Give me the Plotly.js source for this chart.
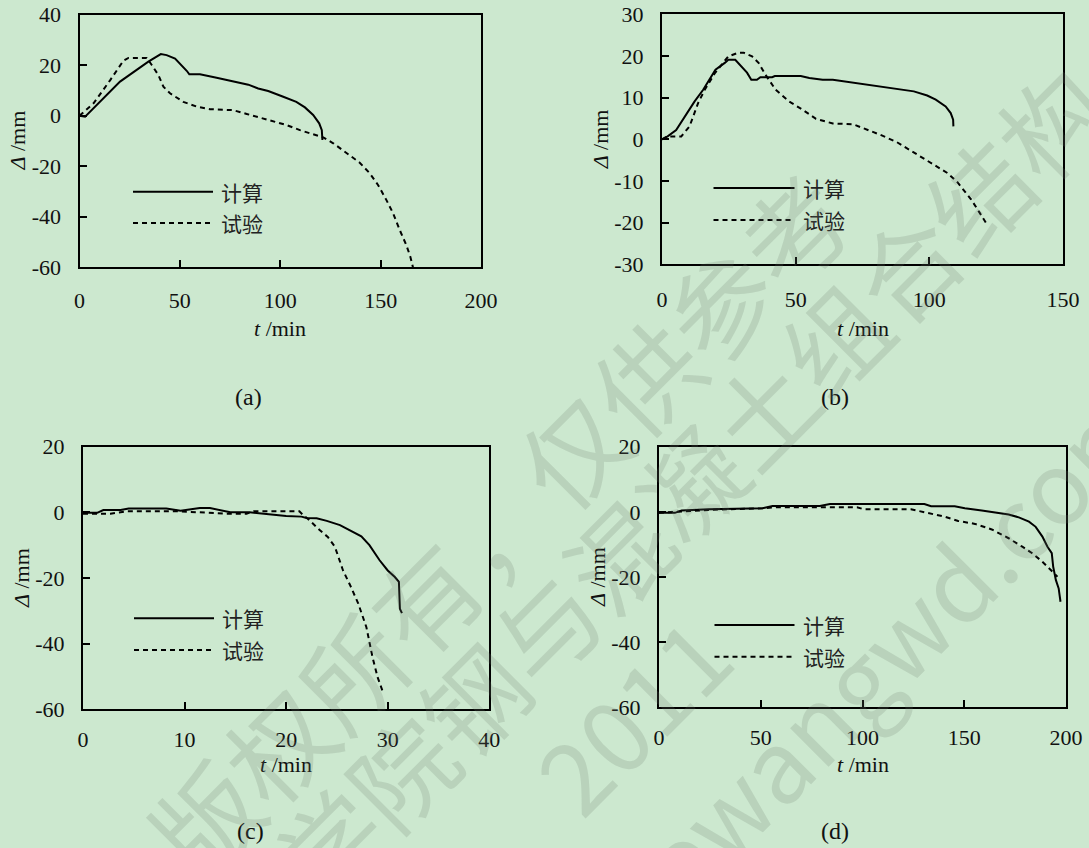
<!DOCTYPE html>
<html>
<head>
<meta charset="utf-8">
<script src="https://cdn.plot.ly/plotly-3.0.1.min.js"></script>
<style>html,body{margin:0;padding:0;background:#cce8cf;}#chart{width:1089px;height:848px;}</style>
</head>
<body>
<div id="chart"></div>
<script>
// ---------- data ----------
const seriesNames = ["计算", "试验"];
const panelLabels = ["(a)", "(b)", "(c)", "(d)"];

// (a)
const aCalcT = [0, 2.8, 20.2, 34.3, 40.5, 43.4, 47.6, 50.9, 53.4, 54.7, 60, 68.3, 76.6, 84.1, 89, 94, 101.5, 108, 112.3, 116.4, 119.4, 120.7, 121];
const aCalcD = [0, -0.4, 13.5, 21.4, 24.4, 24, 22.6, 20.1, 17.8, 16.4, 16.4, 15, 13.7, 12.3, 10.8, 9.8, 7.5, 5.5, 3.3, 0.3, -3, -5.7, -9.6];
const aTestT = [0, 7, 15.3, 21.9, 24.4, 33.5, 36, 39.3, 41.8, 45.1, 51.7, 58.4, 65, 76.6, 83.3, 89.9, 96.5, 103.2, 109.8, 116.4, 121.4, 126.4, 133, 139.6, 144.6, 148.7, 152.9, 156.2, 159.5, 162.8, 164.8, 166.5];
const aTestD = [0, 4.9, 14.1, 21.8, 22.9, 22.9, 20.1, 16.1, 11.5, 8.9, 5.5, 3.6, 2.6, 2.2, 0.7, -0.7, -2, -3.7, -5.7, -7.4, -8.6, -10.9, -14.9, -18.6, -22.8, -27.4, -33.4, -38.6, -45.2, -51.2, -55.8, -61.3];

// (b)
const bCalcT = [0, 2.1, 5.3, 7.8, 10.3, 12.2, 15.4, 17.9, 20, 23.6, 24.8, 27.4, 29.2, 31.8, 33.4, 35.5, 36.8, 41.2, 42.2, 51.9, 55.1, 60.1, 63.9, 75.3, 87.9, 94.2, 99.2, 102.4, 106.1, 108, 108.9, 109];
const bCalcD = [0, 0.7, 2.2, 4.7, 7.5, 9.1, 11.9, 14.7, 16.7, 18.4, 19.1, 19.1, 17.9, 16, 14.3, 14.3, 14.9, 14.9, 15.2, 15.2, 14.7, 14.3, 14.3, 13.3, 12.2, 11.5, 10.5, 9.5, 7.9, 6.3, 4.7, 3.1];
const bTestT = [0, 2.1, 7.2, 10.3, 13.5, 16, 19.8, 24.8, 28.6, 30.5, 33.7, 36.2, 38.7, 42.5, 47.5, 52.6, 57.6, 63.9, 71.5, 75.3, 81.6, 87.9, 94.2, 100.5, 106.8, 110.5, 115.6, 118.8, 121.9];
const bTestD = [0, 0.7, 0.7, 3.1, 8.7, 11.9, 15.9, 19.9, 20.8, 20.8, 19.9, 18.3, 15.5, 11.9, 9.1, 7.1, 4.9, 3.8, 3.6, 2.7, 1.1, -0.7, -3.1, -5.7, -8.1, -10.3, -14.4, -17.6, -20.8];

// (c)
const cCalcT = [0, 1.4, 2, 3.7, 4.5, 8.2, 9.6, 10.2, 11.5, 12.5, 14.5, 16.4, 18.1, 20, 21.5, 22, 23, 24, 25.3, 26.2, 27.4, 28.2, 29.2, 30, 30.7, 31.1, 31.2, 31.4];
const cCalcD = [-0.15, -0.15, 0.7, 0.7, 1.2, 1.2, 0.5, 0.7, 1.3, 1.3, 0, 0, -0.5, -1.1, -1.3, -1.7, -1.8, -2.6, -3.9, -5.4, -7.3, -10, -14.6, -17.7, -19.7, -21.2, -29.4, -30.7];
const cTestT = [0, 2.7, 4.3, 9.6, 14.1, 16.1, 16.8, 21.3, 21.7, 22.3, 23.3, 24.1, 24.8, 25.6, 26.3, 27.1, 27.9, 28.2, 28.5, 29, 29.5];
const cTestD = [-0.4, -0.4, 0.3, 0.3, -0.4, -0.4, 0.3, 0.3, -0.9, -2.4, -5.4, -7.5, -10.5, -17.7, -22.2, -27.8, -35, -39.5, -44.1, -50.2, -54.5];

// (d)
const dCalcT = [0, 7.8, 11.1, 24.4, 50.9, 55.8, 79, 84, 130.4, 133.7, 145.3, 150.3, 158.6, 165.2, 171.8, 176.8, 181.8, 185.1, 188.4, 190.9, 193, 193.7, 195, 196.4, 197.3];
const dCalcD = [-0.3, -0.3, 0.4, 0.8, 1.1, 1.8, 1.8, 2.4, 2.4, 1.7, 1.7, 1.1, 0.4, -0.3, -0.8, -1.7, -3, -4.6, -7.6, -10.7, -12.7, -16.8, -20.9, -23.5, -27.6];
const dTestT = [0, 7.8, 24.4, 50.9, 57.5, 97.3, 100.6, 123.8, 132.1, 140.4, 147, 155.3, 163.5, 171.8, 178.5, 183.4, 188.4, 192.5, 195.8];
const dTestD = [-0.3, 0, 0.6, 1.1, 1.4, 1.4, 0.8, 0.8, -0.3, -1.5, -2.8, -3.7, -5.4, -8.1, -10.7, -12.7, -15.3, -17.9, -19.9];

// axis ranges and tick labels
const xRanges = [[0, 200], [0, 150], [0, 40], [0, 200]];
const yRanges = [[-60, 40], [-30, 30], [-60, 20], [-60, 20]];
const xTickVals = [[0, 50, 100, 150, 200], [0, 50, 100, 150], [0, 10, 20, 30, 40], [0, 50, 100, 150, 200]];
const xTickText = [["0", "50", "100", "150", "200"], ["0", "50", "100", "150"], ["0", "10", "20", "30", "40"], ["0", "50", "100", "150", "200"]];
const yTickVals = [[-60, -40, -20, 0, 20, 40], [-30, -20, -10, 0, 10, 20, 30], [-60, -40, -20, 0, 20], [-60, -40, -20, 0, 20]];
const yTickText = [["-60", "-40", "-20", "0", "20", "40"], ["-30", "-20", "-10", "0", "10", "20", "30"], ["-60", "-40", "-20", "0", "20"], ["-60", "-40", "-20", "0", "20"]];
const xTitle = "<i>t</i> /min";
const yTitle = "<i>Δ</i> /mm";

// watermark text lines of the source image
const watermarkLines = ["©版权所有，仅供参考", "学院钢与混凝土组合结构", "2011", "cewangwd.com"];

// ---------- layout helpers ----------
const W = 1089, H = 848;
const px = v => v / W;
const py = v => 1 - v / H;
// plot boxes in pixels: [left, right, top, bottom]
const boxes = [[79.5, 481, 14.7, 267.3], [662, 1063, 14.3, 264.3], [83, 489.3, 446.7, 709.3], [659, 1066, 446.7, 707.3]];
const legendPos = [[133, 213, 191.7, 223], [713.5, 794.5, 188, 220], [134, 214, 618.3, 650], [714.5, 794.5, 625, 656.7]];
const xLabelStandoff = [12, 14, 9, 9];
const xTitleY = [328, 328, 764, 764];
const panelLabelPos = [[248, 397], [835, 397], [250, 831], [835, 831]];
const wmPos = [[466, 553, 104], [688, 481, 102], [630, 712, 100], [878, 655, 100]];

const BG = '#cce8cf';
const serif = 'Liberation Serif, Times New Roman, serif';
const cjk = 'Noto Sans CJK SC, sans-serif';

const calcs = [[aCalcT, aCalcD], [bCalcT, bCalcD], [cCalcT, cCalcD], [dCalcT, dCalcD]];
const tests = [[aTestT, aTestD], [bTestT, bTestD], [cTestT, cTestD], [dTestT, dTestD]];

const traces = [];
const layout = {
  width: W, height: H,
  margin: {l: 0, r: 0, t: 0, b: 0, pad: 0},
  paper_bgcolor: BG, plot_bgcolor: BG,
  showlegend: false,
  annotations: [], shapes: []
};

for (let i = 0; i < 4; i++) {
  const sfx = i === 0 ? '' : String(i + 1);
  const [L, R, T, B] = boxes[i];
  traces.push({x: calcs[i][0], y: calcs[i][1], xaxis: 'x' + sfx, yaxis: 'y' + sfx, type: 'scatter', mode: 'lines',
    name: seriesNames[0], line: {color: '#000', width: 2}, hoverinfo: 'skip'});
  traces.push({x: tests[i][0], y: tests[i][1], xaxis: 'x' + sfx, yaxis: 'y' + sfx, type: 'scatter', mode: 'lines',
    name: seriesNames[1], line: {color: '#000', width: 2, dash: '5px,4px'}, hoverinfo: 'skip'});
  const common = {showline: true, mirror: true, linecolor: '#000', linewidth: 2, showgrid: false, zeroline: false,
    ticks: 'inside', ticklen: 7, tickwidth: 2, tickcolor: '#000', tickmode: 'array',
    tickfont: {family: serif, size: 22, color: '#111'}, fixedrange: true};
  layout['xaxis' + sfx] = Object.assign({}, common, {domain: [px(L), px(R)], range: xRanges[i],
    tickvals: xTickVals[i], ticktext: xTickText[i], anchor: 'y' + sfx, ticklabelstandoff: xLabelStandoff[i]});
  layout['yaxis' + sfx] = Object.assign({}, common, {domain: [py(B), py(T)], range: yRanges[i],
    tickvals: yTickVals[i], ticktext: yTickText[i], anchor: 'x' + sfx, ticklabelstandoff: 12});
  // axis titles
  layout.annotations.push({xref: 'paper', yref: 'paper', x: px((L + R) / 2), y: py(xTitleY[i]), text: xTitle,
    showarrow: false, font: {family: serif, size: 22, color: '#111'}, xanchor: 'center', yanchor: 'middle'});
  layout.annotations.push({xref: 'paper', yref: 'paper', x: px(L - 62), y: py((T + B) / 2), text: yTitle, textangle: -90,
    showarrow: false, font: {family: serif, size: 22, color: '#111'}, xanchor: 'center', yanchor: 'middle'});
  // panel label
  layout.annotations.push({xref: 'paper', yref: 'paper', x: px(panelLabelPos[i][0]), y: py(panelLabelPos[i][1]), text: panelLabels[i],
    showarrow: false, font: {family: serif, size: 24, color: '#111'}, xanchor: 'center', yanchor: 'middle'});
  // legend
  const [l0, l1, y0, y1] = legendPos[i];
  layout.shapes.push({type: 'line', xref: 'paper', yref: 'paper', x0: px(l0), x1: px(l1), y0: py(y0), y1: py(y0), line: {color: '#000', width: 2}});
  layout.shapes.push({type: 'line', xref: 'paper', yref: 'paper', x0: px(l0), x1: px(l1), y0: py(y1), y1: py(y1), line: {color: '#000', width: 2, dash: '5px,4px'}});
  layout.annotations.push({xref: 'paper', yref: 'paper', x: px(l1 + 6), y: py(y0), text: seriesNames[0], showarrow: false,
    font: {family: cjk, size: 21, color: '#222'}, xanchor: 'left', yanchor: 'middle'});
  layout.annotations.push({xref: 'paper', yref: 'paper', x: px(l1 + 6), y: py(y1), text: seriesNames[1], showarrow: false,
    font: {family: cjk, size: 21, color: '#222'}, xanchor: 'left', yanchor: 'middle'});
}

// watermark
watermarkLines.forEach((txt, k) => {
  const [wx, wy, ws] = wmPos[k];
  layout.annotations.push({xref: 'paper', yref: 'paper', x: px(wx), y: py(wy), text: txt, textangle: -45,
    showarrow: false, font: {family: cjk, size: ws, color: 'rgba(110,125,112,0.2)'}, xanchor: 'center', yanchor: 'middle'});
});

Plotly.newPlot('chart', traces, layout, {staticPlot: true, displayModeBar: false});
</script>
</body>
</html>
